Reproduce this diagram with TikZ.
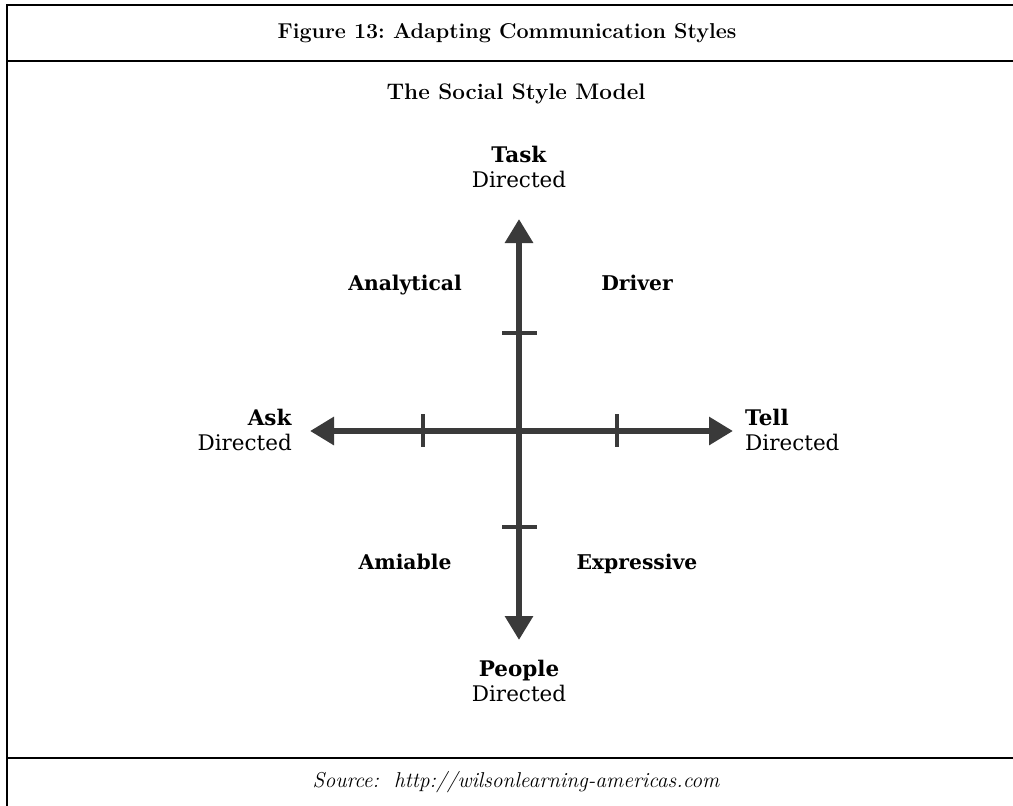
\documentclass[tikz,border=0pt]{standalone}
\usepackage{fontspec}
\newfontfamily\labfont{DejaVu Serif}
\usetikzlibrary{arrows.meta}
\definecolor{axisgray}{HTML}{3A3A3A}
\begin{document}
\begin{tikzpicture}[x=1pt,y=-1pt,
  frameline/.style={line width=1.8pt, draw=black},
  axisline/.style={line width=6pt, draw=axisgray,
    {Triangle[length=24pt,width=27pt]}-{Triangle[length=24pt,width=27pt]}},
  tickmark/.style={line width=3.5pt, draw=axisgray},
  lbl/.style={font=\labfont\fontsize{21.5}{25}\selectfont, inner sep=0pt},
  quad/.style={font=\labfont\bfseries\fontsize{20.3}{25}\selectfont, inner sep=0pt, anchor=base},
  headtext/.style={font=\bfseries\fontsize{21.5}{24}\selectfont, inner sep=0pt},
  subtext/.style={font=\bfseries\fontsize{22.5}{24}\selectfont, inner sep=0pt},
  srctext/.style={font=\itshape\fontsize{21.5}{24}\selectfont, inner sep=0pt}]
\useasboundingbox (0,0) rectangle (1013,806);
% frame
\coordinate (ftl) at (7,5);
\coordinate (fbl) at (7,806);
\coordinate (ftr) at (1013,5);
\coordinate (h1l) at (7,61);
\coordinate (h1r) at (1013,61);
\coordinate (h2l) at (7,758);
\coordinate (h2r) at (1013,758);
\draw[frameline] (fbl) -- (ftl) -- (ftr);
\draw[frameline] (h1l) -- (h1r);
\draw[frameline] (h2l) -- (h2r);
% titles
\node[headtext] (title) at (507,33) {Figure 13:\ Adapting\ Communication\ Styles};
\node[subtext] (sub) at (516,94) {The\ Social\ Style\ Model};
\node[srctext] (src) at (516,782) {Source:\ \ http://wilsonlearning-americas.com};
% axes
\coordinate (c) at (519,431);
\coordinate (L) at (310,431);
\coordinate (R) at (733,431);
\coordinate (T) at (519,219);
\coordinate (B) at (519,640);
\draw[axisline] (L) -- (R);
\draw[axisline] (B) -- (T);
% ticks
\coordinate (tl1) at (423,414); \coordinate (tl2) at (423,447);
\coordinate (tr1) at (617,414); \coordinate (tr2) at (617,447);
\coordinate (tt1) at (502,333); \coordinate (tt2) at (537,333);
\coordinate (tb1) at (502,527); \coordinate (tb2) at (537,527);
\draw[tickmark] (tl1) -- (tl2);
\draw[tickmark] (tr1) -- (tr2);
\draw[tickmark] (tt1) -- (tt2);
\draw[tickmark] (tb1) -- (tb2);
% labels
\node[lbl, align=center] (task) at (519,167) {\textbf{Task}\\Directed};
\node[lbl, align=center] (people) at (519,681) {\textbf{People}\\Directed};
\node[lbl, align=right, anchor=east] (ask) at (292,430) {\textbf{Ask}\\Directed};
\node[lbl, align=left, anchor=west] (tell) at (745,430) {\textbf{Tell}\\Directed};
\node[quad] (analytical) at (405,290) {Analytical};
\node[quad] (driver) at (637,290) {Driver};
\node[quad] (amiable) at (405,569) {Amiable};
\node[quad] (expressive) at (637,569) {Expressive};
\end{tikzpicture}
\end{document}
